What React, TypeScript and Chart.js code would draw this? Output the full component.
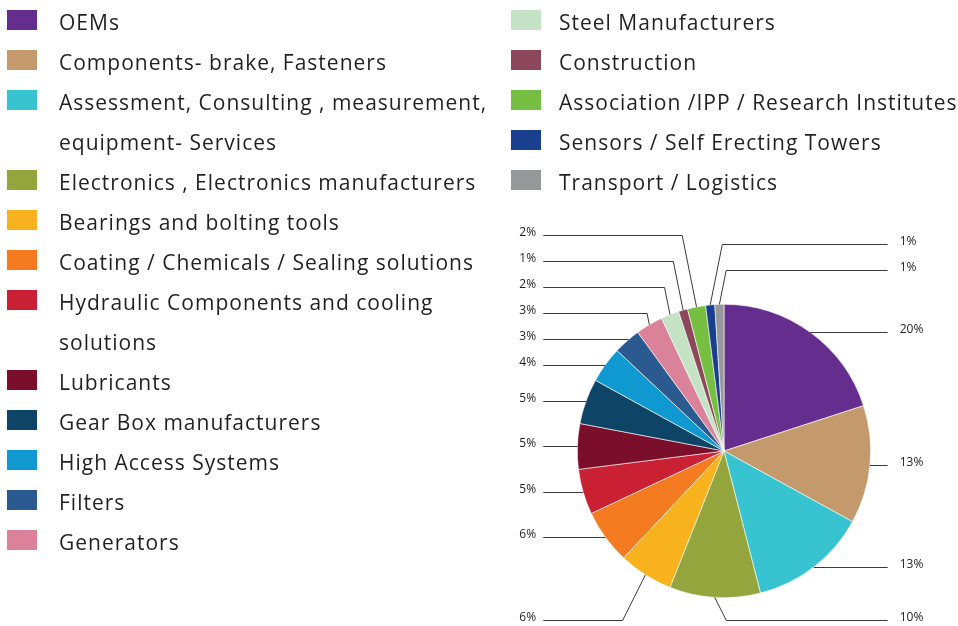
import React, { useEffect, useRef } from "react";
import { Chart, registerables } from "chart.js";

Chart.register(...registerables);

const categories = [
  "OEMs",
  "Components- brake, Fasteners",
  "Assessment, Consulting , measurement, equipment- Services",
  "Electronics , Electronics manufacturers",
  "Bearings and bolting tools",
  "Coating / Chemicals / Sealing solutions",
  "Hydraulic Components and cooling solutions",
  "Lubricants",
  "Gear Box manufacturers",
  "High Access Systems",
  "Filters",
  "Generators",
  "Steel Manufacturers",
  "Construction",
  "Association /IPP / Research Institutes",
  "Sensors / Self Erecting Towers",
  "Transport / Logistics",
];

const shares = [20, 13, 13, 10, 6, 6, 5, 5, 5, 4, 3, 3, 2, 1, 2, 1, 1];

const colors = [
  "#652D8E",
  "#C49A6C",
  "#38C3D0",
  "#94A53D",
  "#F7B21E",
  "#F47B20",
  "#C92033",
  "#7B0F2B",
  "#0E4465",
  "#1098D1",
  "#2B5A91",
  "#D9829A",
  "#C4E2C4",
  "#8C475B",
  "#76BF43",
  "#1A3F8E",
  "#97989A",
];

const LEFT_COUNT = 12;
const TEXT_COLOR = "#231F20";
const LEGEND_FONT = "'Open Sans', 'Noto Sans', sans-serif";

const leaderPlugin = {
  id: "leaderLabels",
  afterDatasetsDraw(chart: any) {
    const meta = chart.getDatasetMeta(0);
    const arcs = meta.data;
    if (!arcs.length) return;
    const ds = chart.data.datasets[0].data as number[];
    const total = ds.reduce((a: number, b: number) => a + b, 0);
    const cx = arcs[0].x;
    const cy = arcs[0].y;
    const R = arcs[0].outerRadius;
    const gap = 26;
    const TWO_PI = Math.PI * 2;

    type Item = {
      i: number; a: number; t: number; ax: number; ay: number; y: number;
      start: number; end: number;
    };
    const left: Item[] = [];
    const right: Item[] = [];
    arcs.forEach((arc: any, i: number) => {
      const a = (arc.startAngle + arc.endAngle) / 2;
      const ax = cx + Math.cos(a) * R;
      const ay = cy + Math.sin(a) * R;
      let t = a + Math.PI / 2; // clockwise from top
      while (t < 0) t += TWO_PI;
      while (t >= TWO_PI) t -= TWO_PI;
      let y = ay;
      const fromTop = Math.min(t, TWO_PI - t);
      const fromBottom = Math.abs(t - Math.PI);
      if (fromTop < (15 * Math.PI) / 180) y = Math.min(y, cy - R - 34);
      if (fromBottom < (35 * Math.PI) / 180) y = Math.max(y, cy + R + 22);
      const item: Item = { i, a, t, ax, ay, y, start: arc.startAngle, end: arc.endAngle };
      if (ax > cx - 0.17 * R) {
        if (t > 1.5 * Math.PI) item.t = t - TWO_PI;
        right.push(item);
      } else {
        left.push(item);
      }
    });
    right.sort((p, q) => p.t - q.t);
    left.sort((p, q) => q.t - p.t);

    const resolve = (list: Item[]) => {
      for (let k = list.length - 2; k >= 0; k--) {
        if (list[k].ay < cy - 0.5) list[k].y = Math.min(list[k].y, list[k + 1].y - gap);
      }
      for (let k = 1; k < list.length; k++) {
        if (list[k].ay >= cy - 0.5) list[k].y = Math.max(list[k].y, list[k - 1].y + gap);
      }
    };
    resolve(left);
    resolve(right);

    const ctx = chart.ctx;
    ctx.save();
    ctx.strokeStyle = "#3a3a3a";
    ctx.lineWidth = 1;
    ctx.fillStyle = TEXT_COLOR;
    ctx.font = "12px 'Open Sans', 'Noto Sans', sans-serif";
    ctx.textBaseline = "middle";
    ctx.textAlign = "left";

    const inSlice = (it: Item, px: number, py: number) => {
      let ang = Math.atan2(py - cy, px - cx);
      while (ang < it.start - 0.001) ang += TWO_PI;
      while (ang > it.end + 0.001 + TWO_PI) ang -= TWO_PI;
      return ang >= it.start - 0.001 && ang <= it.end + 0.001;
    };

    const drawSide = (list: Item[], side: number) => {
      list.forEach((it) => {
        const ly = Math.round(it.y) + 0.5;
        const lineOuterX = side < 0 ? cx - R - 34 : cx + R + 17;
        const textX = side < 0 ? cx - R - 58 : cx + R + 29;
        const pct = Math.round((ds[it.i] / total) * 100) + "%";
        ctx.fillText(pct, textX, ly - 3);
        ctx.beginPath();
        ctx.moveTo(lineOuterX, ly);
        const dy = ly - cy;
        let direct = false;
        if (Math.abs(dy) < R) {
          const hx = cx + side * Math.sqrt(R * R - dy * dy);
          if (inSlice(it, hx, ly) && Math.abs(ly - it.ay) > 1) {
            ctx.lineTo(hx, ly);
            direct = true;
          }
        }
        if (!direct) {
          if (Math.abs(ly - it.ay) <= 1.5) {
            ctx.lineTo(it.ax, ly);
          } else {
            const slope = ly < cy ? 0.2 : 0.5;
            const ex = it.ax + side * slope * Math.abs(ly - it.ay);
            ctx.lineTo(ex, ly);
            ctx.lineTo(it.ax, it.ay);
          }
        }
        ctx.stroke();
      });
    };
    drawSide(left, -1);
    drawSide(right, 1);
    ctx.restore();
  },
};

function LegendItem({ label, color, squareLeft, textGap, textWidth }: { label: string; color: string; squareLeft: number; textGap: number; textWidth: number }) {
  return (
    <div style={{ display: "flex", alignItems: "flex-start", lineHeight: "40px" }}>
      <div style={{ width: 30, height: 20, marginTop: 10, marginLeft: squareLeft, background: color, flex: "0 0 auto" }} />
      <div
        style={{
          marginLeft: textGap,
          width: textWidth,
          fontSize: 21,
          letterSpacing: "1px",
          color: TEXT_COLOR,
          fontFamily: LEGEND_FONT,
          position: "relative",
          top: 2,
        }}
      >
        {label}
      </div>
    </div>
  );
}

export default function App() {
  const canvasRef = useRef<HTMLCanvasElement | null>(null);

  useEffect(() => {
    if (!canvasRef.current) return;
    const chart = new Chart(canvasRef.current, {
      type: "pie",
      data: {
        labels: categories,
        datasets: [
          {
            data: shares,
            backgroundColor: colors,
            borderColor: "#ffffff",
            borderWidth: 0.6,
          },
        ],
      },
      options: {
        responsive: false,
        maintainAspectRatio: false,
        animation: false,
        devicePixelRatio: 1,
        layout: { padding: { left: 577, right: 87, top: 304, bottom: 28 } },
        plugins: {
          legend: { display: false },
          tooltip: { enabled: false },
        },
      },
      plugins: [leaderPlugin],
    });
    return () => chart.destroy();
  }, []);

  const leftItems = categories.slice(0, LEFT_COUNT);
  const rightItems = categories.slice(LEFT_COUNT);

  return (
    <div style={{ position: "absolute", left: 0, top: 0, width: 958, height: 626, background: "#fff", overflow: "hidden" }}>
      <canvas ref={canvasRef} width={958} height={626} style={{ position: "absolute", left: 0, top: 0, width: 958, height: 626 }} />
      <div style={{ position: "absolute", left: 0, top: 0, width: 500 }}>
        {leftItems.map((c, k) => (
          <LegendItem key={c} label={c} color={colors[k]} squareLeft={7} textGap={22} textWidth={440} />
        ))}
      </div>
      <div style={{ position: "absolute", left: 0, top: 0, width: 958 }}>
        {rightItems.map((c, k) => (
          <LegendItem key={c} label={c} color={colors[LEFT_COUNT + k]} squareLeft={511} textGap={18} textWidth={399} />
        ))}
      </div>
    </div>
  );
}
